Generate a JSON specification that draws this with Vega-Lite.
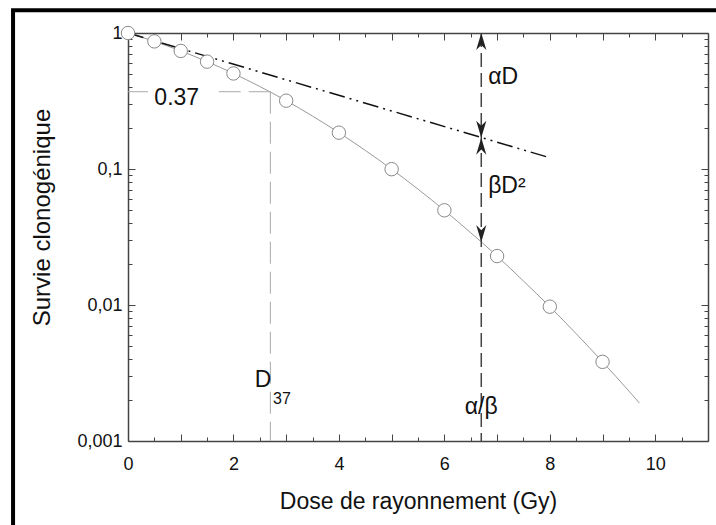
{
  "$schema": "https://vega.github.io/schema/vega-lite/v6.json",
  "width": 580,
  "height": 408,
  "autosize": {"type": "none"},
  "padding": {"left": 128, "top": 33, "right": 8, "bottom": 84},
  "background": "white",
  "config": {
    "view": {"stroke": null},
    "font": "Liberation Sans",
    "axis": {
      "labelFont": "Liberation Sans",
      "titleFont": "Liberation Sans",
      "labelColor": "#111",
      "titleColor": "#111",
      "grid": false,
      "domainColor": "#444",
      "domainWidth": 1.5,
      "tickColor": "#444",
      "tickWidth": 1,
      "titleFontWeight": "normal",
      "labelFlush": false,
      "labelOverlap": false
    }
  },
  "datasets": {
    "curve": [
      {"dose": 0, "survie": 1},
      {"dose": 0.5, "survie": 0.868},
      {"dose": 1, "survie": 0.738},
      {"dose": 1.5, "survie": 0.616},
      {"dose": 2, "survie": 0.504},
      {"dose": 2.5, "survie": 0.404},
      {"dose": 3, "survie": 0.318},
      {"dose": 3.5, "survie": 0.245},
      {"dose": 4, "survie": 0.185},
      {"dose": 4.5, "survie": 0.137},
      {"dose": 5, "survie": 0.0997},
      {"dose": 5.5, "survie": 0.0711},
      {"dose": 6, "survie": 0.0497},
      {"dose": 6.5, "survie": 0.034},
      {"dose": 7, "survie": 0.0229},
      {"dose": 7.5, "survie": 0.015},
      {"dose": 8, "survie": 0.00972},
      {"dose": 8.5, "survie": 0.00615},
      {"dose": 9, "survie": 0.00382},
      {"dose": 9.5, "survie": 0.00233},
      {"dose": 9.7, "survie": 0.0019}
    ],
    "points": [
      {"dose": 0, "survie": 1},
      {"dose": 0.5, "survie": 0.868},
      {"dose": 1, "survie": 0.738},
      {"dose": 1.5, "survie": 0.616},
      {"dose": 2, "survie": 0.504},
      {"dose": 3, "survie": 0.318},
      {"dose": 4, "survie": 0.185},
      {"dose": 5, "survie": 0.0997},
      {"dose": 6, "survie": 0.0497},
      {"dose": 7, "survie": 0.0229},
      {"dose": 8, "survie": 0.00972},
      {"dose": 9, "survie": 0.00382}
    ],
    "alpha": [
      {"dose": 0, "survie": 1},
      {"dose": 8, "survie": 0.121}
    ],
    "guides": [
      {"kind": "ab", "x": 6.7, "y": 1, "x2": 6.7, "y2": 0.001},
      {"kind": "d37", "x": 2.7, "y": 0.37, "x2": 2.7, "y2": 0.001},
      {"kind": "d37", "x": 0, "y": 0.37, "x2": 0.38, "y2": 0.37},
      {"kind": "d37", "x": 1.72, "y": 0.37, "x2": 2.7, "y2": 0.37}
    ],
    "arrows": [
      {"dose": 6.7, "survie": 1, "dir": "up"},
      {"dose": 6.7, "survie": 0.17, "dir": "down"},
      {"dose": 6.7, "survie": 0.17, "dir": "up"},
      {"dose": 6.7, "survie": 0.029, "dir": "down"}
    ]
  },
  "layer": [
    {
      "data": {"values": [{"frame": 1}]},
      "mark": {"type": "rect", "filled": false, "stroke": "black", "strokeWidth": 4, "clip": false},
      "encoding": {
        "x": {"datum": -2.18, "type": "quantitative", "scale": {"domain": [0, 11], "nice": false}, "axis": null},
        "x2": {"datum": 14},
        "y": {"datum": 1.47, "type": "quantitative", "scale": {"type": "log", "domain": [0.001, 1], "nice": false}, "axis": null},
        "y2": {"datum": 0.0001}
      }
    },
    {
      "data": {"name": "curve"},
      "mark": {"type": "line", "color": "#999", "strokeWidth": 1, "interpolate": "monotone"},
      "encoding": {
        "x": {
          "field": "dose", "type": "quantitative",
          "scale": {"domain": [0, 11], "nice": false},
          "axis": {
            "orient": "bottom",
            "values": [0, 1, 2, 3, 4, 5, 6, 7, 8, 9, 10, 11],
            "tickSize": -7,
            "labelExpr": "(datum.value % 2 == 0 && datum.value < 11) ? datum.label : ''",
            "labelFontSize": 18,
            "labelPadding": 21,
            "title": "Dose de rayonnement  (Gy)",
            "titleFontSize": 23,
            "titlePadding": 17
          }
        },
        "y": {
          "field": "survie", "type": "quantitative",
          "scale": {"type": "log", "domain": [0.001, 1], "nice": false},
          "axis": {
            "orient": "left",
            "values": [0.001, 0.01, 0.1, 1],
            "tickSize": -7,
            "labelExpr": "datum.value == 1 ? '1' : datum.value == 0.1 ? '0,1' : datum.value == 0.01 ? '0,01' : '0,001'",
            "labelFontSize": 18,
            "labelPadding": 13,
            "title": "Survie clonogénique",
            "titleFontSize": 24,
            "titlePadding": 22,
            "titleY": 184
          }
        }
      }
    },
    {
      "data": {"name": "alpha"},
      "mark": {"type": "line", "color": "#111", "strokeWidth": 1.5, "strokeDash": [16, 5, 2, 5, 2, 5]},
      "encoding": {
        "x": {
          "field": "dose", "type": "quantitative",
          "scale": {"domain": [0, 11], "nice": false},
          "axis": {"orient": "top", "values": [0, 1, 2, 3, 4, 5, 6, 7, 8, 9, 10, 11], "tickSize": -7, "labels": false, "title": null}
        },
        "y": {
          "field": "survie", "type": "quantitative",
          "scale": {"type": "log", "domain": [0.001, 1], "nice": false},
          "axis": {"orient": "right", "values": [0.001, 0.01, 0.1, 1], "tickSize": -7, "labels": false, "title": null}
        }
      }
    },
    {
      "data": {"name": "guides"},
      "transform": [{"filter": "datum.kind == 'ab'"}],
      "mark": {"type": "rule", "color": "#444", "strokeWidth": 1.5, "strokeDash": [14, 6]},
      "encoding": {
        "x": {
          "field": "x", "type": "quantitative",
          "scale": {"domain": [0, 11], "nice": false},
          "axis": {"orient": "top", "values": [0.5, 1.5, 2.5, 3.5, 4.5, 5.5, 6.5, 7.5, 8.5, 9.5, 10.5], "tickSize": -4, "labels": false, "domain": false, "title": null}
        },
        "x2": {"field": "x2"},
        "y": {
          "field": "y", "type": "quantitative",
          "scale": {"type": "log", "domain": [0.001, 1], "nice": false},
          "axis": {"orient": "right", "values": [0.002, 0.003, 0.004, 0.005, 0.006, 0.007, 0.008, 0.009, 0.02, 0.03, 0.04, 0.05, 0.06, 0.07, 0.08, 0.09, 0.2, 0.3, 0.4, 0.5, 0.6, 0.7, 0.8, 0.9], "tickSize": -4, "labels": false, "domain": false, "title": null}
        },
        "y2": {"field": "y2"}
      }
    },
    {
      "data": {"name": "guides"},
      "transform": [{"filter": "datum.kind == 'd37'"}],
      "mark": {"type": "rule", "color": "#aaa", "strokeWidth": 1, "strokeDash": [22, 8]},
      "encoding": {
        "x": {"field": "x", "type": "quantitative", "scale": {"domain": [0, 11], "nice": false}, "axis": null},
        "x2": {"field": "x2"},
        "y": {"field": "y", "type": "quantitative", "scale": {"type": "log", "domain": [0.001, 1], "nice": false}, "axis": null},
        "y2": {"field": "y2"}
      }
    },
    {
      "data": {"name": "points"},
      "mark": {"type": "point", "shape": "circle", "filled": true, "fill": "white", "stroke": "#888", "strokeWidth": 1, "size": 180, "opacity": 1},
      "encoding": {
        "x": {
          "field": "dose", "type": "quantitative",
          "scale": {"domain": [0, 11], "nice": false},
          "axis": {"orient": "bottom", "values": [0.5, 1.5, 2.5, 3.5, 4.5, 5.5, 6.5, 7.5, 8.5, 9.5, 10.5], "tickSize": -4, "labels": false, "domain": false, "title": null}
        },
        "y": {
          "field": "survie", "type": "quantitative",
          "scale": {"type": "log", "domain": [0.001, 1], "nice": false},
          "axis": {"orient": "left", "values": [0.002, 0.003, 0.004, 0.005, 0.006, 0.007, 0.008, 0.009, 0.02, 0.03, 0.04, 0.05, 0.06, 0.07, 0.08, 0.09, 0.2, 0.3, 0.4, 0.5, 0.6, 0.7, 0.8, 0.9], "tickSize": -4, "labels": false, "domain": false, "title": null}
        }
      }
    },
    {
      "data": {"name": "arrows"},
      "mark": {"type": "point", "filled": true, "color": "#222", "strokeWidth": 0, "size": 289, "opacity": 1},
      "encoding": {
        "x": {"field": "dose", "type": "quantitative", "scale": {"domain": [0, 11], "nice": false}, "axis": null},
        "y": {"field": "survie", "type": "quantitative", "scale": {"type": "log", "domain": [0.001, 1], "nice": false}, "axis": null},
        "shape": {
          "field": "dir", "type": "nominal",
          "scale": {"domain": ["up", "down"], "range": ["M0,0L0.6,2L0,1.4L-0.6,2Z", "M0,0L0.6,-2L0,-1.4L-0.6,-2Z"]},
          "legend": null
        }
      }
    },
    {
      "data": {"values": [
        {"label": "αD", "dose": 6.83, "survie": 0.476},
        {"label": "βD²", "dose": 6.83, "survie": 0.0745},
        {"label": "0.37", "dose": 0.5, "survie": 0.33}
      ]},
      "mark": {"type": "text", "align": "left", "baseline": "middle", "fontSize": 23, "font": "Liberation Sans", "color": "#111"},
      "encoding": {
        "x": {"field": "dose", "type": "quantitative", "scale": {"domain": [0, 11], "nice": false}, "axis": null},
        "y": {"field": "survie", "type": "quantitative", "scale": {"type": "log", "domain": [0.001, 1], "nice": false}, "axis": null},
        "text": {"field": "label"}
      }
    },
    {
      "data": {"values": [
        {"label": "D", "dose": 2.56, "survie": 0.00282},
        {"label": "α/β", "dose": 6.7, "survie": 0.00179}
      ]},
      "mark": {"type": "text", "align": "center", "baseline": "middle", "fontSize": 23, "font": "Liberation Sans", "color": "#111"},
      "encoding": {
        "x": {"field": "dose", "type": "quantitative", "scale": {"domain": [0, 11], "nice": false}, "axis": null},
        "y": {"field": "survie", "type": "quantitative", "scale": {"type": "log", "domain": [0.001, 1], "nice": false}, "axis": null},
        "text": {"field": "label"}
      }
    },
    {
      "data": {"values": [
        {"label": "37", "dose": 2.92, "survie": 0.00202}
      ]},
      "mark": {"type": "text", "align": "center", "baseline": "middle", "fontSize": 16, "font": "Liberation Sans", "color": "#111"},
      "encoding": {
        "x": {"field": "dose", "type": "quantitative", "scale": {"domain": [0, 11], "nice": false}, "axis": null},
        "y": {"field": "survie", "type": "quantitative", "scale": {"type": "log", "domain": [0.001, 1], "nice": false}, "axis": null},
        "text": {"field": "label"}
      }
    }
  ],
  "resolve": {"axis": {"x": "independent", "y": "independent"}}
}
